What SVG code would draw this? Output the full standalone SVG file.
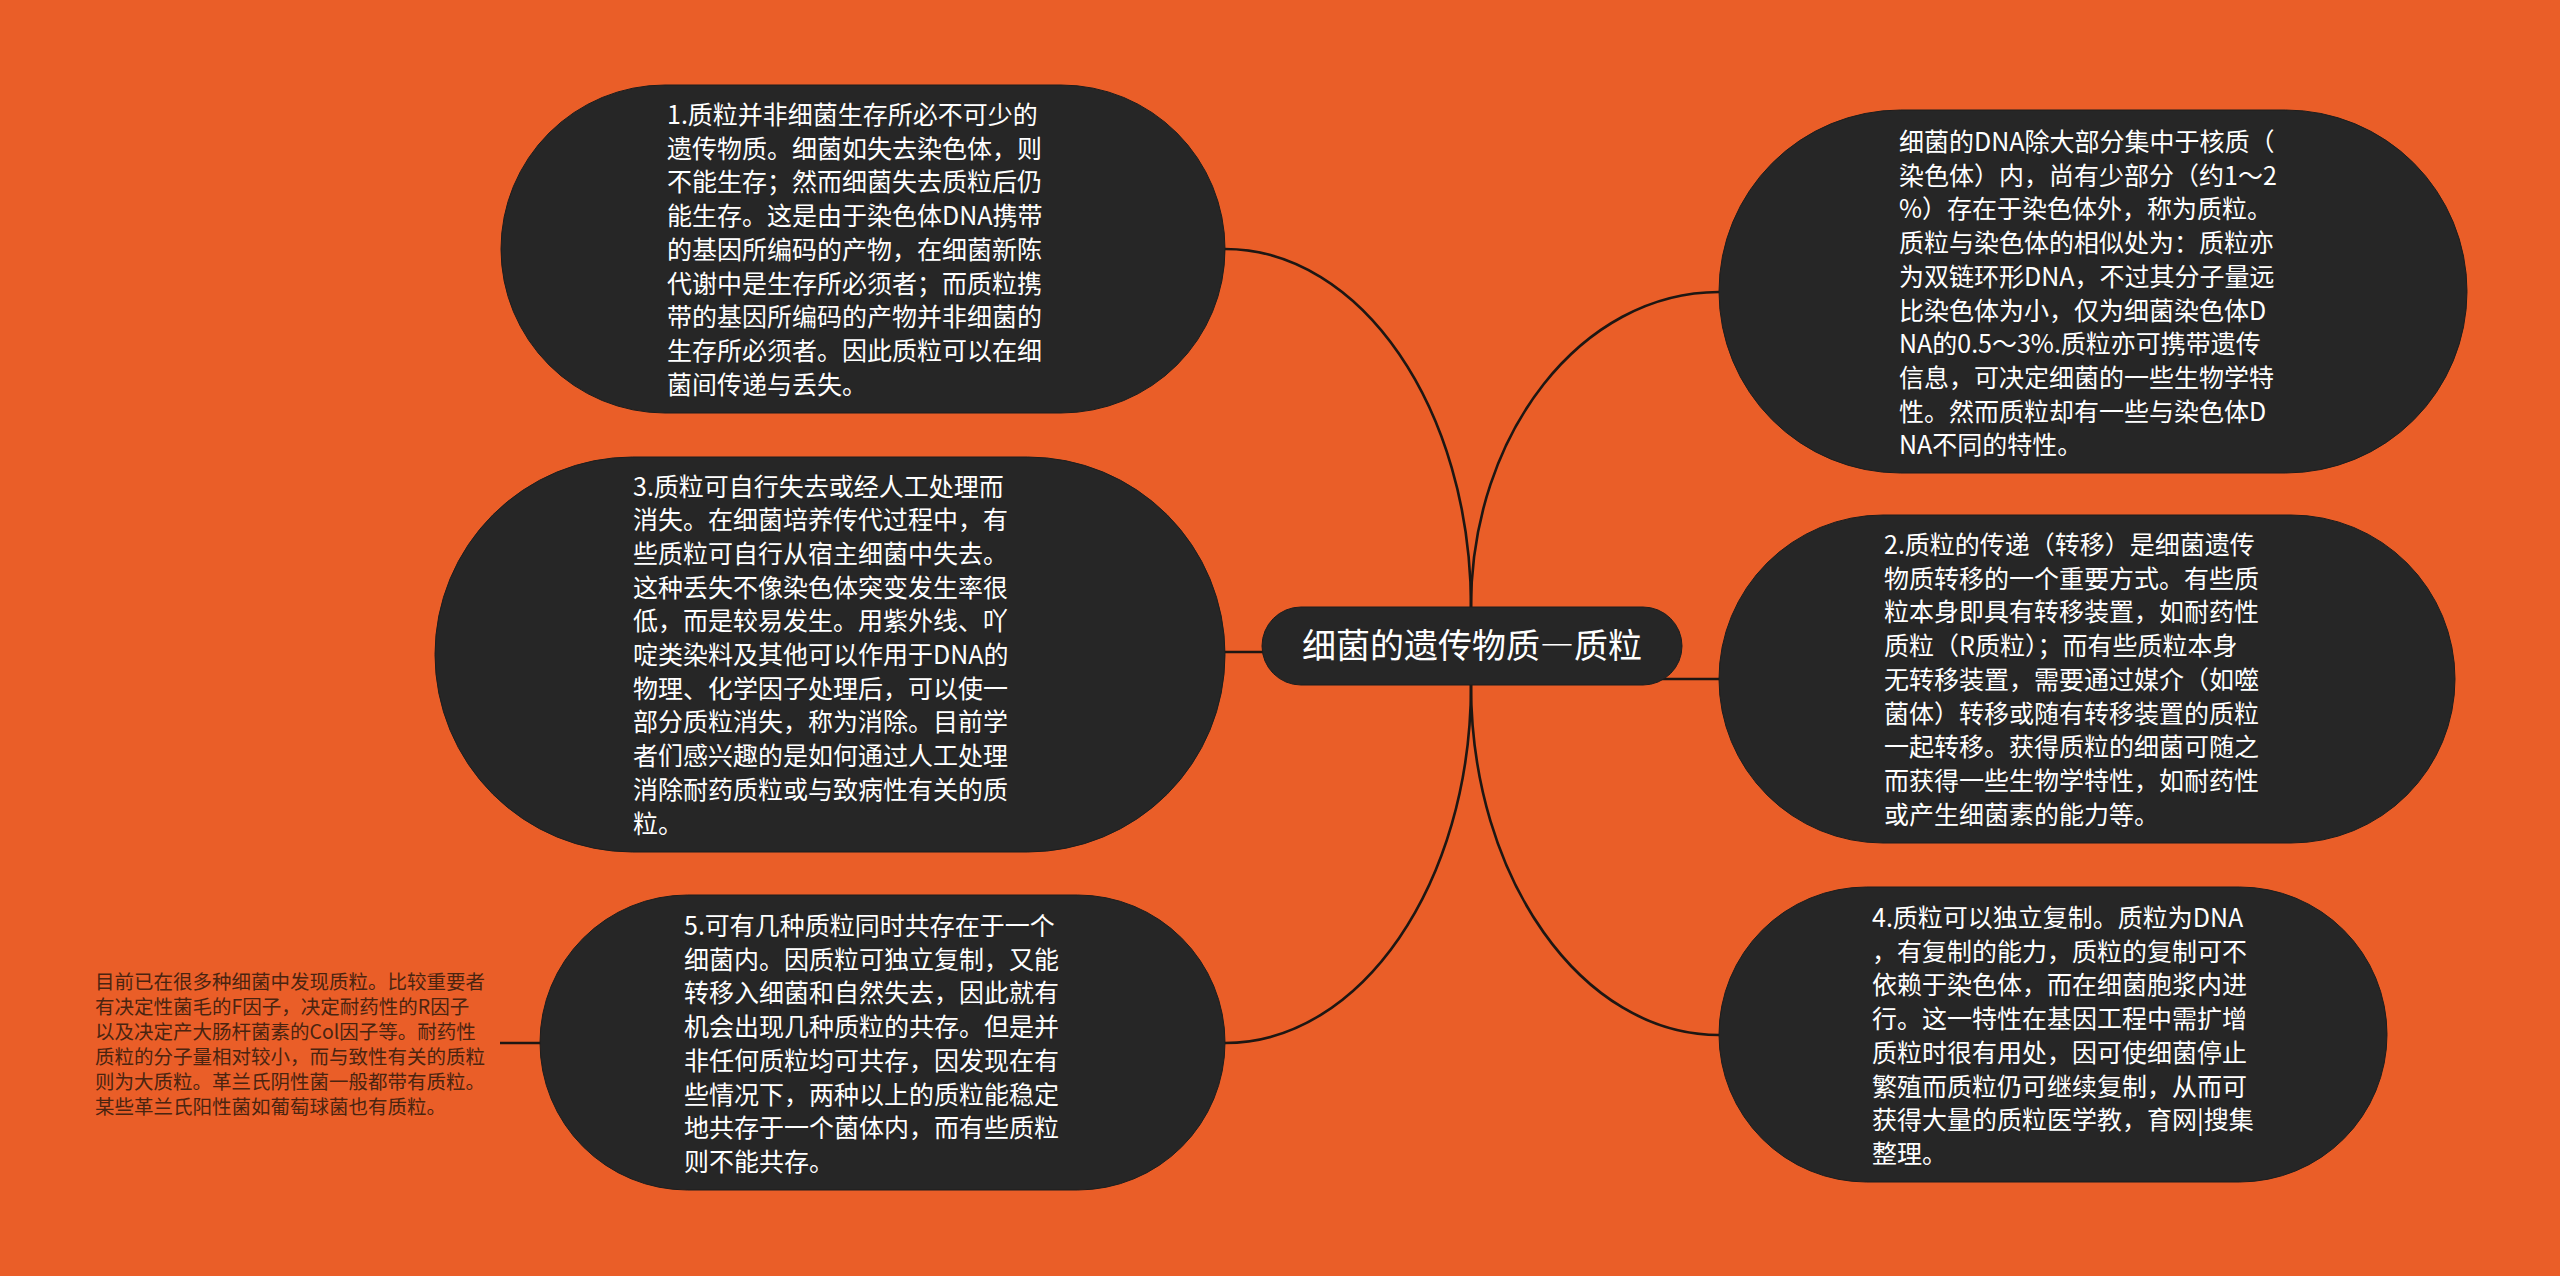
<svg xmlns="http://www.w3.org/2000/svg" width="2560" height="1276" viewBox="0 0 2560 1276">
<style>
.bg{fill:#EA5E28}
.node{fill:#262626;stroke:#1d1d1d;stroke-width:1}
.t{font-family:"Microsoft YaHei","Noto Sans CJK SC","Noto Sans",sans-serif;font-size:25px;fill:#ffffff}
.title{font-family:"Microsoft YaHei","Noto Sans CJK SC","Noto Sans",sans-serif;font-size:34px;fill:#ffffff}
.leaf{font-family:"Microsoft YaHei","Noto Sans CJK SC","Noto Sans",sans-serif;font-size:19.5px;fill:#4a2410}
.conn{fill:none;stroke:#1e1713;stroke-width:2.6}
.fw{font-feature-settings:"fwid" 1}
</style>
<rect class="bg" x="0" y="0" width="2560" height="1276"/>
<g id="connectors">
<path class="conn" d="M1471,646 L1471,607 C1471,409 1361,249 1225,249"/>
<path class="conn" d="M1471,646 L1471,607 C1471,433 1582,292 1719,292"/>
<path class="conn" d="M1225,652 L1300,652"/>
<path class="conn" d="M1640,679 L1719,679"/>
<path class="conn" d="M1471,646 L1471,685 C1471,883 1361,1043 1225,1043"/>
<path class="conn" d="M1471,646 L1471,685 C1471,878 1582,1035 1719,1035"/>
<path class="conn" d="M500,1043 L541,1043"/>
</g>
<g id="center">
<rect class="node" x="1262" y="607" width="420" height="78" rx="39"/>
<text class="title" x="1472" y="658" text-anchor="middle">细菌的遗传物质<tspan class="fw">—</tspan>质粒</text>
</g>
<g id="node1">
<rect class="node" x="501" y="85" width="724" height="328" rx="164"/>
<text class="t" y="124"><tspan x="667">1.质粒并非细菌生存所必不可少的</tspan><tspan x="667" dy="33.7">遗传物质。细菌如失去染色体，则</tspan><tspan x="667" dy="33.7">不能生存；然而细菌失去质粒后仍</tspan><tspan x="667" dy="33.7">能生存。这是由于染色体DNA携带</tspan><tspan x="667" dy="33.7">的基因所编码的产物，在细菌新陈</tspan><tspan x="667" dy="33.7">代谢中是生存所必须者；而质粒携</tspan><tspan x="667" dy="33.7">带的基因所编码的产物并非细菌的</tspan><tspan x="667" dy="33.7">生存所必须者。因此质粒可以在细</tspan><tspan x="667" dy="33.7">菌间传递与丢失。</tspan></text>
</g>
<g id="node0">
<rect class="node" x="1719" y="110" width="748" height="363" rx="181.5"/>
<text class="t" y="151"><tspan x="1899">细菌的DNA除大部分集中于核质（</tspan><tspan x="1899" dy="33.7">染色体）内，尚有少部分（约1～2</tspan><tspan x="1899" dy="33.7">%）存在于染色体外，称为质粒。</tspan><tspan x="1899" dy="33.7">质粒与染色体的相似处为：质粒亦</tspan><tspan x="1899" dy="33.7">为双链环形DNA，不过其分子量远</tspan><tspan x="1899" dy="33.7">比染色体为小，仅为细菌染色体D</tspan><tspan x="1899" dy="33.7">NA的0.5～3%.质粒亦可携带遗传</tspan><tspan x="1899" dy="33.7">信息，可决定细菌的一些生物学特</tspan><tspan x="1899" dy="33.7">性。然而质粒却有一些与染色体D</tspan><tspan x="1899" dy="33.7">NA不同的特性。</tspan></text>
</g>
<g id="node3">
<rect class="node" x="435" y="457" width="790" height="395" rx="197.5"/>
<text class="t" y="495.5"><tspan x="633">3.质粒可自行失去或经人工处理而</tspan><tspan x="633" dy="33.7">消失。在细菌培养传代过程中，有</tspan><tspan x="633" dy="33.7">些质粒可自行从宿主细菌中失去。</tspan><tspan x="633" dy="33.7">这种丢失不像染色体突变发生率很</tspan><tspan x="633" dy="33.7">低，而是较易发生。用紫外线、吖</tspan><tspan x="633" dy="33.7">啶类染料及其他可以作用于DNA的</tspan><tspan x="633" dy="33.7">物理、化学因子处理后，可以使一</tspan><tspan x="633" dy="33.7">部分质粒消失，称为消除。目前学</tspan><tspan x="633" dy="33.7">者们感兴趣的是如何通过人工处理</tspan><tspan x="633" dy="33.7">消除耐药质粒或与致病性有关的质</tspan><tspan x="633" dy="33.7">粒。</tspan></text>
</g>
<g id="node2">
<rect class="node" x="1719" y="515" width="736" height="328" rx="164"/>
<text class="t" y="554"><tspan x="1884">2.质粒的传递（转移）是细菌遗传</tspan><tspan x="1884" dy="33.7">物质转移的一个重要方式。有些质</tspan><tspan x="1884" dy="33.7">粒本身即具有转移装置，如耐药性</tspan><tspan x="1884" dy="33.7">质粒（R质粒）；而有些质粒本身</tspan><tspan x="1884" dy="33.7">无转移装置，需要通过媒介（如噬</tspan><tspan x="1884" dy="33.7">菌体）转移或随有转移装置的质粒</tspan><tspan x="1884" dy="33.7">一起转移。获得质粒的细菌可随之</tspan><tspan x="1884" dy="33.7">而获得一些生物学特性，如耐药性</tspan><tspan x="1884" dy="33.7">或产生细菌素的能力等。</tspan></text>
</g>
<g id="node5">
<rect class="node" x="540" y="895" width="685" height="295" rx="147.5"/>
<text class="t" y="935"><tspan x="684">5.可有几种质粒同时共存在于一个</tspan><tspan x="684" dy="33.7">细菌内。因质粒可独立复制，又能</tspan><tspan x="684" dy="33.7">转移入细菌和自然失去，因此就有</tspan><tspan x="684" dy="33.7">机会出现几种质粒的共存。但是并</tspan><tspan x="684" dy="33.7">非任何质粒均可共存，因发现在有</tspan><tspan x="684" dy="33.7">些情况下，两种以上的质粒能稳定</tspan><tspan x="684" dy="33.7">地共存于一个菌体内，而有些质粒</tspan><tspan x="684" dy="33.7">则不能共存。</tspan></text>
</g>
<g id="node4">
<rect class="node" x="1719" y="887" width="668" height="295" rx="147.5"/>
<text class="t" y="927"><tspan x="1872">4.质粒可以独立复制。质粒为DNA</tspan><tspan x="1872" dy="33.7">，有复制的能力，质粒的复制可不</tspan><tspan x="1872" dy="33.7">依赖于染色体，而在细菌胞浆内进</tspan><tspan x="1872" dy="33.7">行。这一特性在基因工程中需扩增</tspan><tspan x="1872" dy="33.7">质粒时很有用处，因可使细菌停止</tspan><tspan x="1872" dy="33.7">繁殖而质粒仍可继续复制，从而可</tspan><tspan x="1872" dy="33.7">获得大量的质粒医学教，育网|搜集</tspan><tspan x="1872" dy="33.7">整理。</tspan></text>
</g>
<g id="leaf">
<text class="leaf" y="989"><tspan x="95">目前已在很多种细菌中发现质粒。比较重要者</tspan><tspan x="95" dy="25">有决定性菌毛的F因子，决定耐药性的R因子</tspan><tspan x="95" dy="25">以及决定产大肠杆菌素的Col因子等。耐药性</tspan><tspan x="95" dy="25">质粒的分子量相对较小，而与致性有关的质粒</tspan><tspan x="95" dy="25">则为大质粒。革兰氏阴性菌一般都带有质粒。</tspan><tspan x="95" dy="25">某些革兰氏阳性菌如葡萄球菌也有质粒。</tspan></text>
</g>
</svg>
